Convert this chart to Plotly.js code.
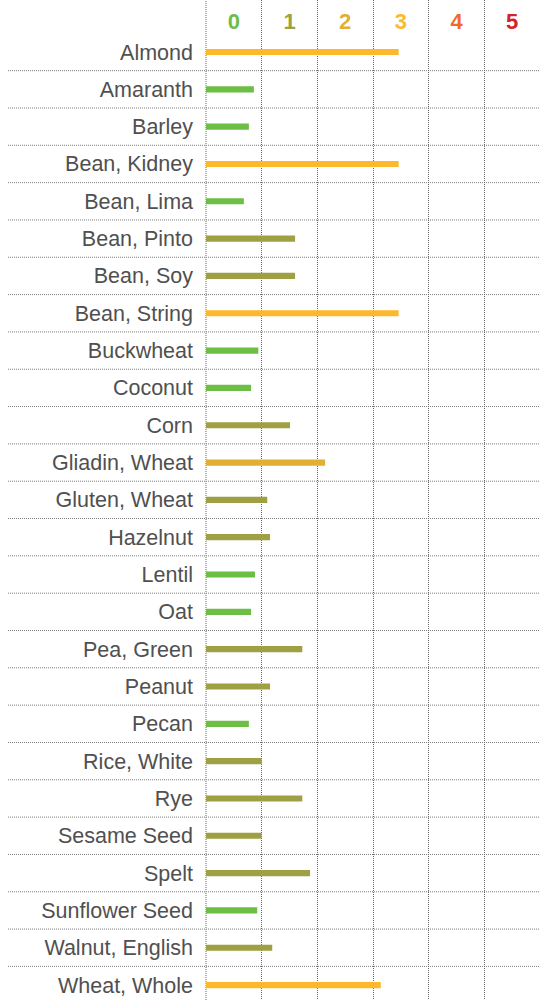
<!DOCTYPE html>
<html>
<head>
<meta charset="utf-8">
<script src="https://cdn.plot.ly/plotly-3.0.1.min.js"></script>
<style>html,body{margin:0;padding:0;background:#fff;}#chart{width:540px;height:1000px;}</style>
</head>
<body>
<div id="chart"></div>
<script>
var foods = ["Almond","Amaranth","Barley","Bean, Kidney","Bean, Lima","Bean, Pinto","Bean, Soy","Bean, String","Buckwheat","Coconut","Corn","Gliadin, Wheat","Gluten, Wheat","Hazelnut","Lentil","Oat","Pea, Green","Peanut","Pecan","Rice, White","Rye","Sesame Seed","Spelt","Sunflower Seed","Walnut, English","Wheat, Whole"];
var scores = [3.46,0.86,0.77,3.46,0.68,1.60,1.60,3.46,0.94,0.81,1.51,2.14,1.10,1.15,0.88,0.81,1.73,1.15,0.77,1.00,1.73,1.00,1.87,0.92,1.19,3.14];
var classLabels = ["0","1","2","3","4","5"];
var classColors = ["#6dbe45","#9f9f43","#e1b033","#fdb92b","#f26a2b","#d2232a"];

var barColors = scores.map(function(v){ return classColors[Math.min(5, Math.floor(v))]; });

var tickVals = classLabels.map(function(c, i){ return i + 0.5; });
var tickText = classLabels.map(function(c, i){ return '<span style="color:' + classColors[i] + '"><b>' + c + '</b></span>'; });
var gridVals = classLabels.map(function(c, i){ return i; });

var shapes = [];
for (var i = 0; i < foods.length - 1; i++) {
  shapes.push({type:'line', xref:'paper', yref:'y', x0:-0.588, x1:1.01, y0:i+0.5, y1:i+0.5,
    line:{color:'#7a7a7a', width:1, dash:'1px,1px'}, layer:'below'});
}
shapes.push({type:'line', xref:'x', yref:'paper', x0:0, x1:0, y0:0, y1:1,
  line:{color:'#999999', width:1.5, dash:'1px,1px'}, layer:'below'});

var trace = {
  type:'bar', orientation:'h', y:foods, x:scores,
  marker:{color:barColors, line:{width:0}}, width:0.165, hoverinfo:'none'
};

var layout = {
  width:540, height:1000,
  margin:{l:205, r:0, t:0, b:0},
  paper_bgcolor:'#fff', plot_bgcolor:'#fff',
  showlegend:false,
  font:{family:'"Liberation Sans", Arial, sans-serif', color:'#4a4a4a'},
  xaxis:{
    side:'top', range:[-0.018,6], tickmode:'array', tickvals:tickVals, ticktext:tickText,
    ticklabelposition:'inside', ticklabelstandoff:11, ticks:'', showgrid:false, zeroline:false,
    showline:false, tickfont:{size:22, family:'"Liberation Sans", Arial, sans-serif'},
    minor:{tickmode:'array', tickvals:gridVals, showgrid:true, gridcolor:'#666666', griddash:'1px,1px', gridwidth:1, ticks:''},
    fixedrange:true
  },
  yaxis:{
    type:'category', range:[25.40,-1.393], ticks:'', showgrid:false, zeroline:false, showline:false,
    tickfont:{size:21.5, color:'#505050'}, ticklabelstandoff:11, fixedrange:true
  },
  shapes:shapes
};

Plotly.newPlot('chart', [trace], layout, {displayModeBar:false, staticPlot:true});
</script>
</body>
</html>
